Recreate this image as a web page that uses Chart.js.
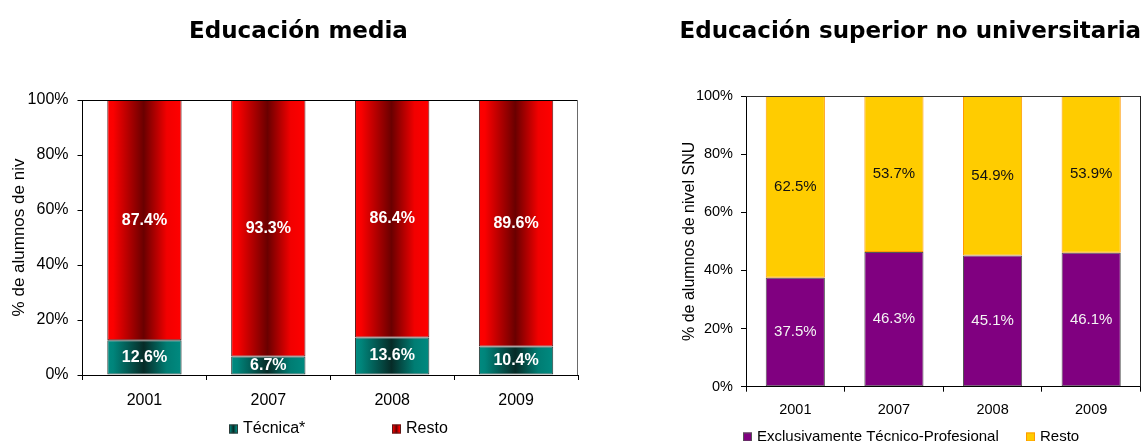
<!DOCTYPE html>
<html lang="es">
<head>
<meta charset="utf-8">
<title>Alumnos en educación técnica</title>
<script src="https://cdn.jsdelivr.net/npm/chart.js@4.4.1/dist/chart.umd.min.js"></script>
<style>
  html, body { margin: 0; padding: 0; background: #fff; }
  body { position: relative; width: 1143px; height: 441px; overflow: hidden; }
  .caja { position: absolute; top: 0; height: 441px; }
  #media { left: 0; width: 596px; }
  #superior { left: 675px; width: 468px; }
  h2 {
    position: absolute;
    top: 18.8px;
    margin: 0;
    width: 600px;
    font: bold 23px/23px 'DejaVu Sans', sans-serif;
    color: #000;
    text-align: center;
    white-space: nowrap;
  }
  #tituloMedia { left: -1.6px; }       /* centro en x = 298.4 */
  #tituloSuperior { left: 610.3px; }   /* centro en x = 910.3 */
</style>
</head>
<body>
<div class="caja" id="media"><canvas id="graficoMedia"></canvas></div>
<div class="caja" id="superior"><canvas id="graficoSuperior"></canvas></div>
<h2 id="tituloMedia">Educación media</h2>
<h2 id="tituloSuperior">Educación superior no universitaria</h2>
<script>
// datos
const anios = ['2001', '2007', '2008', '2009'];
const mediaTecnica = [12.6, 6.7, 13.6, 10.4];
const mediaResto = [87.4, 93.3, 86.4, 89.6];
const snuTecnico = [37.5, 46.3, 45.1, 46.1];
const snuResto = [62.5, 53.7, 54.9, 53.9];
const ticksY = [0, 20, 40, 60, 80, 100];

const ARIAL = "'Liberation Sans', Arial, sans-serif";
Chart.defaults.font.family = ARIAL;
Chart.defaults.color = '#000';

// franjas verticales: claro en los bordes, oscuro al centro
const paradasRojo = [[0, '#ff0000'], [0.08, '#fb0000'], [0.49, '#6a0000'], [0.8, '#f20000'], [1, '#ff0000']];
const paradasVerde = [[0, '#008a80'], [0.08, '#00857b'], [0.49, '#062b27'], [0.8, '#007d73'], [1, '#008a80']];

function gradienteX(ctx, x0, x1, paradas) {
  const g = ctx.createLinearGradient(x0, 0, x1, 0);
  paradas.forEach(p => g.addColorStop(p[0], p[1]));
  return g;
}

function degradado(paradas) {
  return (c) => {
    const chart = c.chart;
    const x = chart.scales.x;
    if (!x || c.dataIndex === undefined) return paradas[0][1];
    const centro = x.getPixelForValue(c.dataIndex);
    const ancho = x.width / chart.data.labels.length * 0.6;
    if (!isFinite(centro) || !isFinite(ancho) || ancho <= 0) return paradas[0][1];
    return gradienteX(chart.ctx, centro - ancho / 2, centro + ancho / 2, paradas);
  };
}

// porcentaje al centro de cada tramo
const etiquetas = {
  id: 'etiquetas',
  afterDatasetsDraw(chart, args, opts) {
    const ctx = chart.ctx;
    ctx.save();
    ctx.font = opts.font;
    ctx.textAlign = 'center';
    ctx.textBaseline = 'middle';
    chart.data.datasets.forEach((ds, i) => {
      ctx.fillStyle = ds.colorEtiqueta;
      chart.getDatasetMeta(i).data.forEach((bar, j) => {
        ctx.fillText(ds.data[j].toFixed(1) + '%', bar.x, (bar.y + bar.base) / 2);
      });
    });
    ctx.restore();
  }
};

// lineas superior y derecha del area de trazado
const marco = {
  id: 'marco',
  afterDraw(chart, args, opts) {
    const { ctx, chartArea: a } = chart;
    ctx.save();
    ctx.lineWidth = 1;
    ctx.strokeStyle = opts.arriba;
    ctx.beginPath();
    ctx.moveTo(a.left, Math.round(a.top) + 0.5);
    ctx.lineTo(a.right, Math.round(a.top) + 0.5);
    ctx.stroke();
    ctx.strokeStyle = opts.derecha;
    ctx.beginPath();
    ctx.moveTo(Math.round(a.right) - 0.5, a.top);
    ctx.lineTo(Math.round(a.right) - 0.5, a.bottom);
    ctx.stroke();
    ctx.restore();
  }
};

// leyenda propia, para poder separar las entradas
const leyenda = {
  id: 'leyenda',
  afterDraw(chart, args, opts) {
    const ctx = chart.ctx;
    const lado = opts.caja;
    ctx.save();
    ctx.font = opts.font;
    ctx.textBaseline = 'middle';
    ctx.textAlign = 'left';
    chart.data.datasets.forEach((ds, i) => {
      const x = opts.x[i];
      const y = opts.y;
      ctx.fillStyle = ds.paradas ? gradienteX(ctx, x, x + lado, ds.paradas) : ds.backgroundColor;
      ctx.fillRect(x, y - lado / 2, lado, lado);
      ctx.strokeStyle = ds.borderColor;
      ctx.lineWidth = 1;
      ctx.strokeRect(x + 0.5, y - lado / 2 + 0.5, lado - 1, lado - 1);
      ctx.fillStyle = '#000';
      ctx.fillText(ds.label, x + lado + 5, y);
    });
    ctx.restore();
  }
};

function ejes(c) {
  return {
    x: {
      stacked: true,
      afterFit: s => { s.height = c.altoX; },
      ticks: { font: { size: c.fuenteEje }, color: '#000', padding: c.padX },
      grid: { drawOnChartArea: false, tickLength: 5, color: '#000' },
      border: { color: '#000' }
    },
    y: {
      stacked: true,
      min: 0,
      max: 100,
      afterBuildTicks: s => { s.ticks = ticksY.map(v => ({ value: v })); },
      afterFit: s => { s.width = c.anchoY; },
      ticks: { callback: v => v + '%', font: { size: c.fuenteTicks }, color: '#000', padding: c.padY },
      grid: { drawOnChartArea: false, tickLength: 5, color: '#000' },
      border: { color: '#000' },
      title: {
        display: true,
        text: c.tituloY,
        font: { size: c.fuenteTituloY },
        color: '#000',
        padding: { top: c.padTituloY, bottom: 0 }
      }
    }
  };
}

new Chart(document.getElementById('graficoMedia'), {
  type: 'bar',
  data: {
    labels: anios,
    datasets: [
      {
        label: 'Técnica*',
        data: mediaTecnica,
        paradas: paradasVerde,
        backgroundColor: degradado(paradasVerde),
        borderColor: '#2e3a38',
        borderWidth: 1,
        borderSkipped: false,
        colorEtiqueta: '#fff'
      },
      {
        label: 'Resto',
        data: mediaResto,
        paradas: paradasRojo,
        backgroundColor: degradado(paradasRojo),
        borderColor: '#5a1a1a',
        borderWidth: 1,
        borderSkipped: false,
        colorEtiqueta: '#fff'
      }
    ]
  },
  options: {
    responsive: true,
    maintainAspectRatio: false,
    animation: false,
    barPercentage: 0.6,
    categoryPercentage: 1,
    layout: { padding: { left: 0, right: 18, top: 100, bottom: 0 } },
    scales: ejes({
      altoX: 66, anchoY: 82.5, fuenteEje: 16, fuenteTicks: 16, padX: 11, padY: 9,
      tituloY: '% de alumnos de niv', fuenteTituloY: 17, padTituloY: 9
    }),
    plugins: {
      legend: { display: false },
      tooltip: { enabled: false },
      etiquetas: { font: 'bold 16px ' + ARIAL },
      marco: { arriba: '#000', derecha: '#6a6a6a' },
      leyenda: { x: [229, 392], y: 429, caja: 9, font: '16px ' + ARIAL }
    }
  },
  plugins: [etiquetas, marco, leyenda]
});

new Chart(document.getElementById('graficoSuperior'), {
  type: 'bar',
  data: {
    labels: anios,
    datasets: [
      {
        label: 'Exclusivamente Técnico-Profesional',
        data: snuTecnico,
        backgroundColor: '#800080',
        borderColor: '#555555',
        borderWidth: 1,
        borderSkipped: false,
        colorEtiqueta: '#f4f4f4'
      },
      {
        label: 'Resto',
        data: snuResto,
        backgroundColor: '#ffcc00',
        borderColor: '#ff9900',
        borderWidth: 1,
        borderSkipped: false,
        colorEtiqueta: '#111'
      }
    ]
  },
  options: {
    responsive: true,
    maintainAspectRatio: false,
    animation: false,
    barPercentage: 0.6,
    categoryPercentage: 1,
    layout: { padding: { left: 0, right: 2.5, top: 96, bottom: 0 } },
    scales: ejes({
      altoX: 54.3, anchoY: 71, fuenteEje: 14.5, fuenteTicks: 14.5, padX: 10, padY: 8,
      tituloY: '% de alumnos de nivel SNU', fuenteTituloY: 16, padTituloY: 5.4
    }),
    plugins: {
      legend: { display: false },
      tooltip: { enabled: false },
      etiquetas: { font: '15px ' + ARIAL },
      marco: { arriba: '#333', derecha: '#222' },
      leyenda: { x: [68, 351], y: 437, caja: 9, font: '15px ' + ARIAL }
    }
  },
  plugins: [etiquetas, marco, leyenda]
});
</script>
</body>
</html>
